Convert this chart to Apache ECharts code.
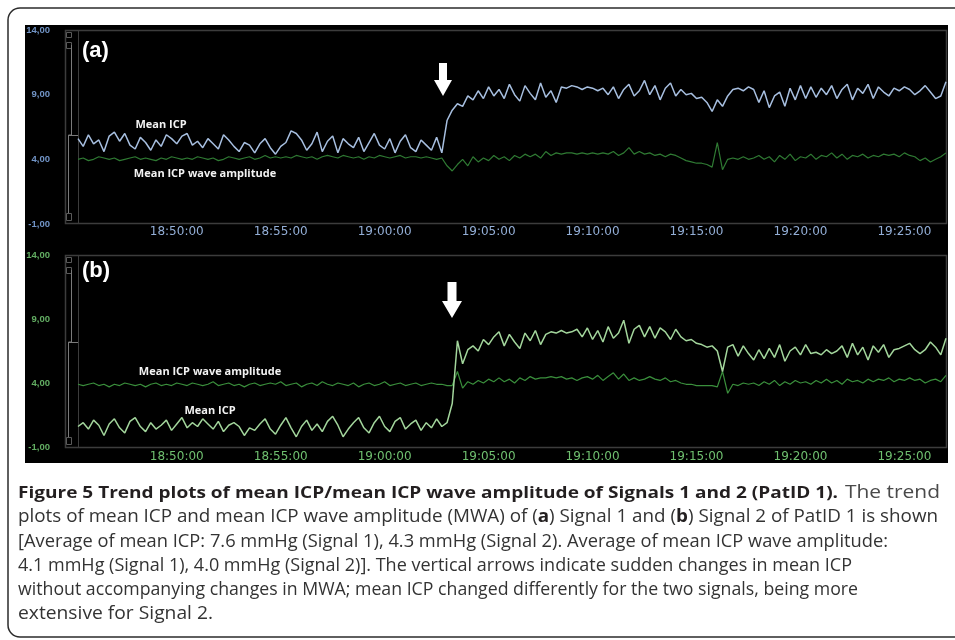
<!DOCTYPE html>
<html><head><meta charset="utf-8">
<script src="https://cdn.jsdelivr.net/npm/echarts@6/dist/echarts.min.js"></script>
<style>html,body{margin:0;padding:0;background:#fff}#c{width:955px;height:640px}</style>
</head><body><div id="c"></div><script>
// ---------------- data ----------------
const sampleStart = '18:45:15';
const sampleStepSec = 15;
const tickLabels = ['18:50:00','18:55:00','19:00:00','19:05:00','19:10:00','19:15:00','19:20:00','19:25:00'];
const yMin = -1, yMax = 14, yStep = 5;

const aMeanICP = [
5.6,5.0,5.9,5.2,5.5,4.6,5.8,6.1,5.4,6.0,5.1,4.8,5.7,5.3,4.7,5.5,5.0,5.9,5.6,5.2,
5.8,6.0,5.1,5.4,4.9,5.6,5.2,4.8,5.9,5.5,5.0,4.6,5.3,5.1,4.5,5.2,5.6,4.9,4.4,5.0,
5.3,6.2,6.0,5.5,4.7,5.2,6.1,4.6,5.4,5.8,4.5,5.6,5.2,4.9,5.7,4.6,5.3,6.0,5.1,4.8,
5.6,4.5,5.4,5.9,4.9,4.6,5.5,5.1,4.7,5.7,4.5,
7.0,7.8,8.3,8.1,8.9,8.6,9.3,8.7,9.6,8.9,
9.4,8.7,9.8,9.0,8.5,9.7,9.1,8.6,9.9,8.8,
9.3,8.4,9.6,9.5,9.7,9.6,9.4,9.6,9.5,9.3,
9.5,9.0,9.6,8.7,9.4,9.8,8.9,9.3,10.1,9.0,
9.7,8.6,9.5,9.9,8.9,9.4,9.0,9.1,8.7,8.8,
8.4,7.7,8.6,8.1,8.9,9.4,9.5,9.3,9.6,9.4,
8.4,9.3,8.0,8.9,9.2,8.1,9.5,8.6,9.7,8.7,
9.6,8.8,9.5,9.0,9.7,8.7,9.4,9.8,8.6,9.5,
9.1,9.8,8.7,9.6,9.2,8.9,9.5,9.3,9.6,9.4,
9.0,9.3,9.7,9.2,8.7,8.9,10.0
];
const aMWA = [
4.0,4.1,3.9,4.0,4.2,4.1,4.0,4.1,3.9,4.0,4.1,4.2,4.0,4.1,4.0,3.9,4.1,4.0,4.2,4.1,
4.0,4.1,4.0,4.2,4.1,4.0,4.1,3.9,4.0,4.2,4.1,4.0,4.1,4.2,4.0,4.1,4.3,4.1,4.2,4.1,
4.2,4.1,4.3,4.2,4.1,4.2,4.0,4.2,4.3,4.2,4.1,4.3,4.2,4.1,4.2,4.0,4.2,4.1,4.3,4.2,
4.1,4.2,4.3,4.1,4.2,4.2,4.1,4.2,4.1,4.0,4.1,
3.5,3.1,3.6,4.0,3.5,4.2,3.8,4.1,3.9,4.3,
4.0,4.2,3.9,4.3,4.1,4.4,4.2,4.4,4.1,4.6,
4.3,4.5,4.4,4.5,4.5,4.4,4.5,4.4,4.5,4.4,
4.5,4.4,4.6,4.3,4.5,4.9,4.4,4.6,4.4,4.5,
4.3,4.4,4.2,4.4,4.3,4.1,3.9,3.8,3.7,3.7,
3.6,3.4,5.3,3.2,4.0,4.1,4.0,4.2,4.0,4.1,
4.3,4.0,4.2,3.8,4.3,4.0,4.4,3.9,4.2,4.1,
4.4,4.0,4.3,4.2,4.5,4.1,4.4,4.0,4.3,4.2,
4.4,4.1,4.3,4.2,4.4,4.3,4.4,4.2,4.5,4.3,
4.2,3.9,4.1,3.8,4.0,4.2,4.5
];
const bMeanICP = [
0.6,0.9,0.4,1.1,0.7,-0.1,0.8,1.2,0.5,0.1,1.0,1.3,0.6,0.2,0.9,0.4,0.7,1.1,0.3,0.8,
1.3,0.5,0.9,0.6,1.2,0.8,0.4,1.0,0.2,0.7,0.9,0.6,-0.1,0.5,0.3,0.8,1.2,0.4,0.0,0.7,
1.3,0.5,-0.2,0.6,1.1,0.3,0.8,0.2,1.0,1.4,0.7,-0.2,0.4,0.9,1.3,0.5,0.1,0.9,1.4,0.6,
0.2,1.0,1.3,0.4,0.8,1.1,0.3,0.9,0.5,1.2,0.6,0.9,
2.4,7.3,5.5,6.6,6.9,6.5,7.4,7.0,
7.6,8.0,6.9,7.8,7.2,6.7,7.9,7.3,8.1,7.0,
7.8,8.0,7.9,8.1,7.9,8.0,8.2,7.6,8.3,7.4,
8.1,7.2,8.4,7.5,7.9,8.9,7.1,8.2,8.5,7.6,
8.4,7.5,8.3,8.0,7.4,8.2,7.6,7.3,7.4,7.1,
7.0,6.8,6.9,6.5,4.9,6.8,7.0,6.1,6.9,6.3,
5.8,6.6,5.9,6.7,6.0,7.0,5.7,6.5,6.8,6.2,
7.0,6.3,6.4,6.2,6.6,6.3,6.5,6.9,6.0,7.1,
6.2,6.8,5.8,6.9,6.4,7.0,6.0,6.6,6.7,6.9,
7.1,6.6,6.3,6.6,7.2,6.8,6.2,7.5
];
const bMWA = [
3.9,3.8,3.9,4.0,3.8,3.9,3.7,3.9,3.8,4.0,3.9,3.8,3.9,3.7,3.9,4.0,3.8,3.9,3.8,4.0,
3.9,3.8,4.0,3.9,3.8,3.9,4.1,3.8,3.9,4.0,3.8,3.9,3.7,3.9,4.0,3.8,3.9,4.0,3.9,4.1,
3.8,3.9,4.0,3.7,3.9,4.0,3.8,4.1,3.9,3.8,4.0,3.9,3.8,4.0,3.7,3.9,4.0,3.8,3.9,4.1,
3.8,3.9,4.0,3.8,3.9,4.0,3.8,3.9,4.0,3.9,3.9,3.8,
3.8,4.9,3.6,4.1,3.9,4.2,4.0,4.3,4.1,
4.4,4.1,4.3,4.0,4.4,4.2,4.5,4.3,4.4,4.4,
4.5,4.4,4.5,4.3,4.4,4.2,4.4,4.5,4.3,4.6,
4.2,4.5,4.8,4.3,4.7,4.2,4.4,4.2,4.3,4.5,
4.3,4.2,4.4,4.1,4.2,4.0,3.9,3.9,3.8,3.8,
3.8,3.8,3.7,4.9,
3.2,3.9,3.8,4.0,3.9,4.0,3.8,4.1,3.9,4.2,
3.8,4.1,3.9,4.2,4.0,4.1,3.9,4.2,4.0,4.3,
4.0,4.2,3.9,4.3,4.1,4.2,4.0,4.3,4.1,4.3,
4.2,4.4,4.1,4.3,4.2,4.4,4.2,4.3,4.0,4.2,
4.3,4.1,4.6
];

const captionLines = [
  'plots of mean ICP and mean ICP wave amplitude (MWA) of ({b|a}) Signal 1 and ({b|b}) Signal 2 of PatID 1 is shown',
  '[Average of mean ICP: 7.6 mmHg (Signal 1), 4.3 mmHg (Signal 2). Average of mean ICP wave amplitude:',
  '4.1 mmHg (Signal 1), 4.0 mmHg (Signal 2)]. The vertical arrows indicate sudden changes in mean ICP',
  'without accompanying changes in MWA; mean ICP changed differently for the two signals, being more',
  'extensive for Signal 2.'
];
const captionTitle = 'Figure 5 Trend plots of mean ICP/mean ICP wave amplitude of Signals 1 and 2 (PatID 1).';
const captionTitleTail = 'The trend';

// ---------------- build ----------------
function pad(n){return (n<10?'0':'')+n;}
const categories = (function(){
  const p = sampleStart.split(':').map(Number);
  const t0 = p[0]*3600+p[1]*60+p[2];
  const out = [];
  for (let i=0;i<aMeanICP.length;i++){
    const t = t0 + i*sampleStepSec;
    out.push(pad(Math.floor(t/3600))+':'+pad(Math.floor(t/60)%60)+':'+pad(t%60));
  }
  return out;
})();

const mctx = document.createElement('canvas').getContext('2d');
function measure(str, font){ mctx.font = font; return mctx.measureText(str).width; }
function richWidth(str, size, family){
  let w = 0;
  str.split(/(\{b\|[^}]*\})/).forEach(function(seg){
    if (!seg) return;
    const m = seg.match(/^\{b\|([^}]*)\}$/);
    if (m) w += measure(m[1], 'bold '+size+'px "'+family+'"');
    else w += measure(seg, size+'px "'+family+'"');
  });
  return w;
}

const capFamily = 'Open Sans';
const capSize = 18;
const capTargets = [920, 870, 834, 840, 195];
const capY = [517, 542, 566, 590, 614];

const graphics = [];
graphics.push({type:'rect', z:-20, shape:{x:8,y:8,width:960,height:629,r:12}, style:{fill:'#fff',stroke:'#2b2b2b',lineWidth:1.5}});
graphics.push({type:'rect', z:-10, shape:{x:25,y:25,width:923,height:438}, style:{fill:'#000'}});
function panelDeco(top, bottom, thumbTop, notch){
  graphics.push({type:'rect', z:-5, shape:{x:65.5,y:top+0.5,width:881,height:bottom-top}, style:{fill:null,stroke:'#3c3c3c',lineWidth:1.5}});
  graphics.push({type:'line', z:-5, shape:{x1:78.5,y1:top,x2:78.5,y2:bottom}, style:{stroke:'#3c3c3c',lineWidth:1}});
  graphics.push({type:'rect', z:-4, shape:{x:66.5,y:top+2.5,width:5,height:5}, style:{fill:null,stroke:'#5a5a5a',lineWidth:1}});
  graphics.push({type:'rect', z:-4, shape:{x:66.5,y:top+12.5,width:5,height:6}, style:{fill:null,stroke:'#5a5a5a',lineWidth:1}});
  graphics.push({type:'rect', z:-4, shape:{x:66.5,y:bottom-9.5,width:5,height:7}, style:{fill:null,stroke:'#5a5a5a',lineWidth:1}});
  graphics.push({type:'polyline', z:-4, shape:{points:[[71.5,thumbTop],[71.5,notch],[68.5,notch],[68.5,bottom-10]]}, style:{fill:null,stroke:'#7a7a7a',lineWidth:1}});
  graphics.push({type:'line', z:-4, shape:{x1:68.5,y1:notch+0.5,x2:78,y2:notch+0.5}, style:{stroke:'#7a7a7a',lineWidth:1}});
}
panelDeco(30, 223, 45, 135);
panelDeco(255, 447, 270, 342);

graphics.push({type:'text', z:10, x:82, y:51, style:{text:'(a)', font:'bold 22px "Liberation Sans"', fill:'#fff', textVerticalAlign:'middle'}});
graphics.push({type:'text', z:10, x:82, y:271, style:{text:'(b)', font:'bold 22px "Liberation Sans"', fill:'#fff', textVerticalAlign:'middle'}});
const annFont = 'bold 11px "Open Sans"';
graphics.push({type:'text', z:10, x:161, y:125, style:{text:'Mean ICP', font:annFont, fill:'#f2f2f2', textAlign:'center', textVerticalAlign:'middle'}});
graphics.push({type:'text', z:10, x:205, y:174, style:{text:'Mean ICP wave amplitude', font:annFont, fill:'#f2f2f2', textAlign:'center', textVerticalAlign:'middle'}});
graphics.push({type:'text', z:10, x:210, y:372, style:{text:'Mean ICP wave amplitude', font:annFont, fill:'#f2f2f2', textAlign:'center', textVerticalAlign:'middle'}});
graphics.push({type:'text', z:10, x:210, y:411, style:{text:'Mean ICP', font:annFont, fill:'#f2f2f2', textAlign:'center', textVerticalAlign:'middle'}});
function arrow(cx, y0, yNeck, yTip, shaftW, headW){
  graphics.push({type:'polygon', z:10, shape:{points:[
    [cx-shaftW/2,y0],[cx+shaftW/2,y0],[cx+shaftW/2,yNeck],[cx+headW/2,yNeck],[cx,yTip],[cx-headW/2,yNeck],[cx-shaftW/2,yNeck]
  ]}, style:{fill:'#fff'}});
}
arrow(443, 63, 80, 96, 8, 18);
arrow(452, 282, 301, 318, 9, 20);
graphics.push({type:'rect', z:20, shape:{x:20,y:463,width:935,height:12}, style:{fill:'#fff'}});

const titleW = measure(captionTitle, 'bold 16.5px "'+capFamily+'"');
graphics.push({type:'text', z:10, x:18, y:493, scaleX:820/titleW, style:{text:captionTitle, font:'bold 16.5px "'+capFamily+'"', fill:'#231f20', textVerticalAlign:'middle'}});
const tailW = measure(captionTitleTail, capSize+'px "'+capFamily+'"');
graphics.push({type:'text', z:10, x:845, y:493, scaleX:95/tailW, style:{text:captionTitleTail, font:capSize+'px "'+capFamily+'"', fill:'#4a4a4a', textVerticalAlign:'middle'}});
captionLines.forEach(function(line, k){
  const w = richWidth(line, capSize, capFamily);
  graphics.push({type:'text', z:10, x:18, y:capY[k], scaleX:capTargets[k]/w, style:{
    text:line, font:capSize+'px "'+capFamily+'"', fill:'#333', textVerticalAlign:'middle',
    rich:{b:{fontWeight:'bold', fontSize:capSize, fontFamily:capFamily, fill:'#231f20'}}
  }});
});

function xAxisFor(gi, color, margin){
  return {type:'category', gridIndex:gi, data:categories, boundaryGap:false,
    axisLine:{show:false}, axisTick:{show:false}, splitLine:{show:false},
    axisLabel:{interval:function(i, v){return tickLabels.indexOf(v) >= 0;},
      color:color, fontSize:12, fontFamily:'DejaVu Sans', margin:margin}};
}
function yAxisFor(gi, color){
  return {type:'value', gridIndex:gi, min:yMin, max:yMax, interval:yStep,
    axisLine:{show:false}, axisTick:{show:false}, splitLine:{show:false},
    axisLabel:{formatter:function(v){return v.toFixed(2).replace('.', ',');}, color:color, fontSize:9.5, fontWeight:'bold',
      fontFamily:'Liberation Sans', margin:28}};
}
function lineSeries(gi, data, color, w){
  return {type:'line', xAxisIndex:gi, yAxisIndex:gi, data:data, showSymbol:false, symbol:'none',
    lineStyle:{color:color, width:w}, itemStyle:{color:color}, silent:true, z:3};
}

const chart = echarts.init(document.getElementById('c'), null, {renderer:'canvas'});
chart.setOption({
  animation:false,
  backgroundColor:'#fff',
  grid:[
    {left:78, top:30, width:868, height:194},
    {left:78, top:255, width:868, height:192}
  ],
  xAxis:[xAxisFor(0, '#93aed6', 2), xAxisFor(1, '#6fbf6f', 4)],
  yAxis:[yAxisFor(0, '#7194c6'), yAxisFor(1, '#62ad62')],
  series:[
    lineSeries(0, aMWA, '#2f7a33', 1.2),
    lineSeries(0, aMeanICP, '#a7bfe0', 1.5),
    lineSeries(1, bMWA, '#3a8f3c', 1.2),
    lineSeries(1, bMeanICP, '#a3d69c', 1.5)
  ],
  graphic:{elements:graphics}
});
</script></body></html>
